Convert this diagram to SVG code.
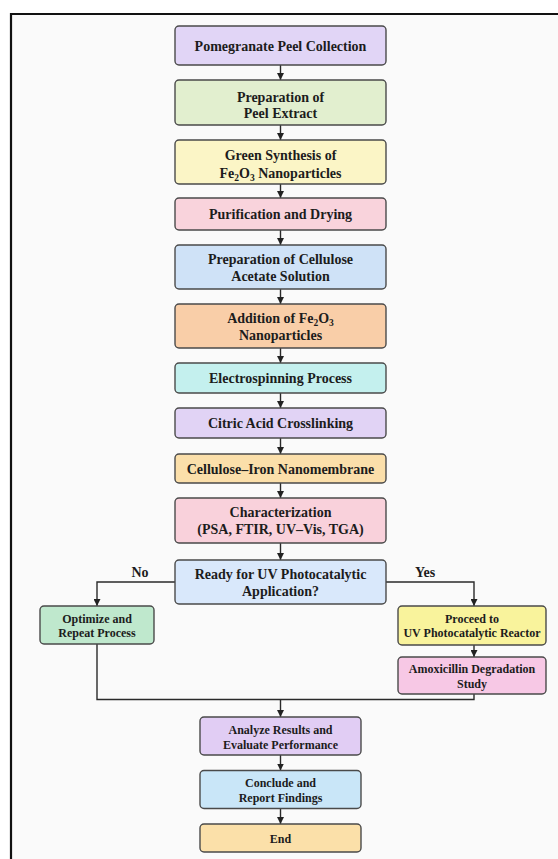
<svg xmlns="http://www.w3.org/2000/svg" width="558" height="859" viewBox="0 0 558 859">
<defs>
<marker id="ah" viewBox="0 0 10 10" refX="10" refY="5" markerWidth="7" markerHeight="7" markerUnits="userSpaceOnUse" orient="auto">
<path d="M0,0 L10,5 L0,10 z" fill="#222"/>
</marker>
<style>
.b{stroke:#4a4a4a;stroke-width:1.4}
.t{font-family:"Liberation Serif","Times New Roman",serif;font-weight:bold;font-size:14px;fill:#1c1c1c;text-anchor:middle}
.s{font-size:12px}
.c{fill:none;stroke:#2a2a2a;stroke-width:1.4}
.a{marker-end:url(#ah)}
</style>
</defs>
<rect x="0" y="0" width="558" height="859" fill="#ffffff"/>
<rect x="11" y="14" width="547" height="845" fill="#fafafa"/>
<g id="frame">
<line x1="11" y1="14" x2="558" y2="14" stroke="#111" stroke-width="2.2"/>
<line x1="11" y1="13" x2="11" y2="859" stroke="#111" stroke-width="2.2"/>
</g>
<g id="connectors">
<line class="c a" x1="280.5" y1="65" x2="280.5" y2="80"/>
<line class="c a" x1="280.5" y1="125" x2="280.5" y2="140"/>
<line class="c a" x1="280.5" y1="184" x2="280.5" y2="198"/>
<line class="c a" x1="280.5" y1="230" x2="280.5" y2="245"/>
<line class="c a" x1="280.5" y1="289" x2="280.5" y2="304"/>
<line class="c a" x1="280.5" y1="348" x2="280.5" y2="363"/>
<line class="c a" x1="280.5" y1="393" x2="280.5" y2="408"/>
<line class="c a" x1="280.5" y1="438" x2="280.5" y2="454"/>
<line class="c a" x1="280.5" y1="483" x2="280.5" y2="498"/>
<line class="c a" x1="280.5" y1="543" x2="280.5" y2="560"/>
<polyline class="c a" points="175,582 97,582 97,606"/>
<polyline class="c a" points="386,582 474,582 474,606"/>
<line class="c a" x1="474" y1="645" x2="474" y2="657"/>
<polyline class="c" points="97,644 97,699.5 474,699.5 474,694"/>
<line class="c a" x1="280.5" y1="699.5" x2="280.5" y2="717"/>
<line class="c a" x1="280.5" y1="755" x2="280.5" y2="770.5"/>
<line class="c a" x1="280.5" y1="808.5" x2="280.5" y2="824"/>
<text class="t" x="140" y="577">No</text>
<text class="t" x="425" y="577">Yes</text>
</g>
<g id="n1"><rect class="b" x="175" y="26" width="211" height="39" rx="4" fill="#e1d5f6"/><text class="t" x="280.5" y="50.5">Pomegranate Peel Collection</text></g>
<g id="n2"><rect class="b" x="175" y="80" width="211" height="45" rx="4" fill="#e2efcf"/><text class="t" x="280.5" y="101.5">Preparation of</text><text class="t" x="280.5" y="118">Peel Extract</text></g>
<g id="n3"><rect class="b" x="175" y="140" width="211" height="44" rx="4" fill="#fbf5c6"/><text class="t" x="280.5" y="160">Green Synthesis of</text><text class="t" x="280.5" y="178">Fe<tspan font-size="9.5" dy="3">2</tspan><tspan dy="-3">O</tspan><tspan font-size="9.5" dy="3">3</tspan><tspan dy="-3"> Nanoparticles</tspan></text></g>
<g id="n4"><rect class="b" x="175" y="198" width="211" height="32" rx="4" fill="#f9d3dc"/><text class="t" x="280.5" y="219">Purification and Drying</text></g>
<g id="n5"><rect class="b" x="175" y="245" width="211" height="44" rx="4" fill="#cfe2f7"/><text class="t" x="280.5" y="263.5">Preparation of Cellulose</text><text class="t" x="280.5" y="280.5">Acetate Solution</text></g>
<g id="n6"><rect class="b" x="175" y="304" width="211" height="44" rx="4" fill="#f9cea8"/><text class="t" x="280.5" y="322.5">Addition of Fe<tspan font-size="9.5" dy="3">2</tspan><tspan dy="-3">O</tspan><tspan font-size="9.5" dy="3">3</tspan></text><text class="t" x="280.5" y="339.5">Nanoparticles</text></g>
<g id="n7"><rect class="b" x="175" y="363" width="211" height="30" rx="4" fill="#c4f0ee"/><text class="t" x="280.5" y="383">Electrospinning Process</text></g>
<g id="n8"><rect class="b" x="175" y="408" width="211" height="30" rx="4" fill="#e1d3f5"/><text class="t" x="280.5" y="428">Citric Acid Crosslinking</text></g>
<g id="n9"><rect class="b" x="175" y="454" width="211" height="29" rx="4" fill="#fbdfaa"/><text class="t" x="280.5" y="473.5">Cellulose–Iron Nanomembrane</text></g>
<g id="n10"><rect class="b" x="175" y="498" width="211" height="45" rx="4" fill="#f9d1db"/><text class="t" x="280.5" y="517">Characterization</text><text class="t" x="280.5" y="534">(PSA, FTIR, UV–Vis, TGA)</text></g>
<g id="n11"><rect class="b" x="175" y="560" width="211" height="44" rx="4" fill="#d9e8fb"/><text class="t" x="280.5" y="578.5">Ready for UV Photocatalytic</text><text class="t" x="280.5" y="595.5">Application?</text></g>
<g id="n12"><rect class="b" x="40" y="606" width="114" height="38" rx="4" fill="#bfe8cd"/><text class="t s" x="97" y="622.5">Optimize and</text><text class="t s" x="97" y="637">Repeat Process</text></g>
<g id="n13"><rect class="b" x="398" y="606" width="148" height="39" rx="4" fill="#f9f39c"/><text class="t s" x="472" y="622.5">Proceed to</text><text class="t s" x="472" y="637">UV Photocatalytic Reactor</text></g>
<g id="n14"><rect class="b" x="398" y="657" width="148" height="37" rx="4" fill="#f7c8e5"/><text class="t s" x="472" y="672.5">Amoxicillin Degradation</text><text class="t s" x="472" y="687.5">Study</text></g>
<g id="n15"><rect class="b" x="200" y="717" width="161" height="38" rx="4" fill="#e1cdf4"/><text class="t s" x="280.5" y="733.5">Analyze Results and</text><text class="t s" x="280.5" y="748.5">Evaluate Performance</text></g>
<g id="n16"><rect class="b" x="200" y="770.5" width="161" height="38" rx="4" fill="#c9e6f8"/><text class="t s" x="280.5" y="786.5">Conclude and</text><text class="t s" x="280.5" y="801.5">Report Findings</text></g>
<g id="n17"><rect class="b" x="200" y="824" width="161" height="28" rx="4" fill="#fbe0a9"/><text class="t s" x="280.5" y="842.5">End</text></g>
</svg>
